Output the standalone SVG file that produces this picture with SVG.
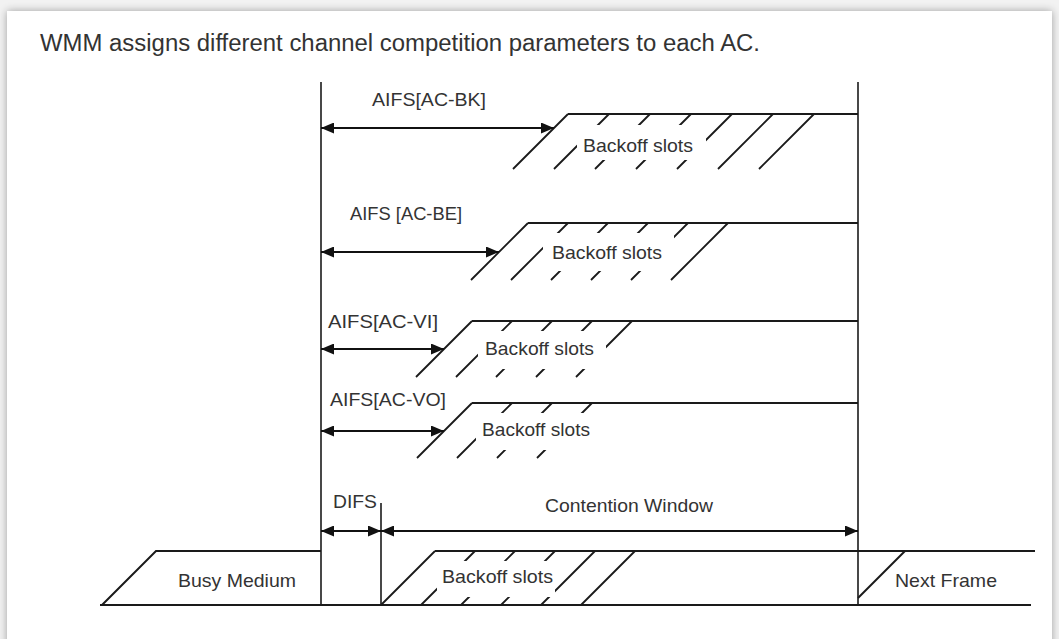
<svg xmlns="http://www.w3.org/2000/svg" width="1059" height="639" viewBox="0 0 1059 639">
<defs>
<filter id="sh" x="-5%" y="-5%" width="110%" height="110%">
<feGaussianBlur in="SourceAlpha" stdDeviation="4"/>
<feOffset dx="0" dy="0" result="b"/>
<feComponentTransfer><feFuncA type="linear" slope="0.35"/></feComponentTransfer>
<feMerge><feMergeNode/><feMergeNode in="SourceGraphic"/></feMerge>
</filter>
<marker id="ah" markerUnits="userSpaceOnUse" markerWidth="13" markerHeight="11" refX="13" refY="5.5" orient="auto-start-reverse">
<path d="M0,0 L13,5.5 L0,11 Z" fill="#111"/>
</marker>
<style>
.ln{stroke:#1a1a1a;stroke-width:1.6;fill:none}
.tl{stroke:#1a1a1a;stroke-width:2;fill:none}
.ht{stroke:#1a1a1a;stroke-width:1.8;fill:none}
.bx{fill:#fff;stroke:none}
.t{font-family:"Liberation Sans",Arial,sans-serif;font-size:19px;fill:#333}
.ti{font-family:"Liberation Sans",Arial,sans-serif;font-size:23px;fill:#333}
.ar{stroke:#111;stroke-width:1.8;fill:none;marker-start:url(#ah);marker-end:url(#ah)}
</style>
</defs>
<rect x="0" y="0" width="1059" height="639" fill="#f2f2f2"/>
<rect x="7" y="11" width="1045" height="660" fill="#fff" filter="url(#sh)"/>
<text class="ti" x="40" y="51" textLength="720" lengthAdjust="spacingAndGlyphs">WMM assigns different channel competition parameters to each AC.</text>

<g id="axes">
<line class="ln" x1="321" y1="82" x2="321" y2="605"/>
<line class="ln" x1="858" y1="82" x2="858" y2="605"/>
<line class="ln" x1="381" y1="503" x2="381" y2="605"/>
</g>

<g id="ac-bk">
<path class="ht" d="M568,114 L513,169 M609,114 L554,169 M650,114 L595,169 M691,114 L636,169 M732,114 L677,169 M773,114 L718,169 M814,114 L759,169"/>
<rect class="bx" x="577" y="125" width="129" height="35"/>
<line class="tl" x1="568" y1="114" x2="858" y2="114"/>
<text class="t" x="583" y="152" textLength="110" lengthAdjust="spacingAndGlyphs">Backoff slots</text>
<text class="t" x="372" y="106" textLength="114" lengthAdjust="spacingAndGlyphs">AIFS[AC-BK]</text>
</g>

<g id="ac-be">
<path class="ht" d="M528,223 L471,280 M568,223 L511,280 M608,223 L551,280 M648,223 L591,280 M688,223 L631,280 M728,223 L671,280"/>
<rect class="bx" x="543" y="233" width="131" height="38"/>
<line class="tl" x1="528" y1="223" x2="858" y2="223"/>
<text class="t" x="552" y="259" textLength="110" lengthAdjust="spacingAndGlyphs">Backoff slots</text>
<text class="t" x="350" y="220" textLength="112" lengthAdjust="spacingAndGlyphs">AIFS [AC-BE]</text>
</g>

<g id="ac-vi">
<path class="ht" d="M472,321 L416,377 M512,321 L456,377 M552,321 L496,377 M592,321 L536,377 M632,321 L576,377"/>
<rect class="bx" x="478" y="331" width="128" height="38"/>
<line class="tl" x1="472" y1="321" x2="858" y2="321"/>
<text class="t" x="485" y="355" textLength="109" lengthAdjust="spacingAndGlyphs">Backoff slots</text>
<text class="t" x="328" y="328" textLength="110" lengthAdjust="spacingAndGlyphs">AIFS[AC-VI]</text>
</g>

<g id="ac-vo">
<path class="ht" d="M472,403 L417,458 M512,403 L457,458 M552,403 L497,458 M592,403 L537,458"/>
<rect class="bx" x="476" y="413" width="124" height="37"/>
<line class="tl" x1="472" y1="403" x2="858" y2="403"/>
<text class="t" x="482" y="436" textLength="108" lengthAdjust="spacingAndGlyphs">Backoff slots</text>
<text class="t" x="330" y="406" textLength="116" lengthAdjust="spacingAndGlyphs">AIFS[AC-VO]</text>
</g>

<g id="busy-medium">
<path class="tl" d="M102,605 L156,551 L321,551"/>
<text class="t" x="178" y="587" textLength="118" lengthAdjust="spacingAndGlyphs">Busy Medium</text>
</g>

<g id="backoff-main">
<path class="ht" d="M435,551 L381,605 M475,551 L421,605 M515,551 L461,605 M555,551 L501,605 M595,551 L541,605 M635,551 L581,605"/>
<rect class="bx" x="437" y="561" width="118" height="36"/>
<line class="tl" x1="435" y1="551" x2="1035" y2="551"/>
<text class="t" x="442" y="583" textLength="111" lengthAdjust="spacingAndGlyphs">Backoff slots</text>
</g>

<g id="next-frame">
<line class="tl" x1="858" y1="598" x2="905" y2="551"/>
<text class="t" x="895" y="587" textLength="102" lengthAdjust="spacingAndGlyphs">Next Frame</text>
</g>

<g id="medium">
<line class="tl" x1="100" y1="605" x2="1031" y2="605"/>
</g>

<g id="labels">
<text class="t" x="333" y="508" textLength="44" lengthAdjust="spacingAndGlyphs">DIFS</text>
<text class="t" x="545" y="512" textLength="168" lengthAdjust="spacingAndGlyphs">Contention Window</text>
</g>

<g id="connectors">
<line class="ar" x1="321" y1="128" x2="554" y2="128"/>
<line class="ar" x1="321" y1="252" x2="499" y2="252"/>
<line class="ar" x1="321" y1="349" x2="444" y2="349"/>
<line class="ar" x1="321" y1="431" x2="444" y2="431"/>
<line class="ar" x1="321" y1="531" x2="381" y2="531"/>
<line class="ar" x1="381" y1="531" x2="858" y2="531"/>
</g>
</svg>
